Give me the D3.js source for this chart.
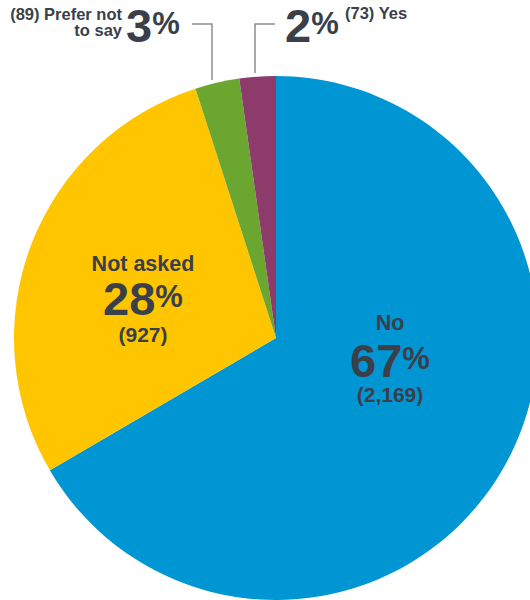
<!DOCTYPE html>
<html>
<head>
<meta charset="utf-8">
<script src="https://cdn.jsdelivr.net/npm/d3@7"></script>
<style>
  body { margin: 0; background: #fff; }
  svg { display: block; font-family: 'Liberation Sans', Arial, sans-serif; }
</style>
</head>
<body>
<div id="chart"></div>
<script>
// ── DATA ──────────────────────────────────────────────
const categories = ['No', 'Not asked', 'Prefer not to say', 'Yes'];
const counts     = [2169, 927, 89, 73];
const colors     = ['#0095D3', '#FFC600', '#6BA631', '#8C3B6B'];

const W = 530, H = 600;
const cx = 276, cy = 338, R = 262;
const ink = '#3A3F4A';

const svg = d3.select('#chart').append('svg')
  .attr('width', W).attr('height', H);

const total = d3.sum(counts);
const pct = v => Math.round(v / total * 100);

const pie = d3.pie().sort(null).value(d => d)(counts);
const arc = d3.arc().innerRadius(0).outerRadius(R);

const g = svg.append('g').attr('transform', `translate(${cx},${cy})`);
g.selectAll('path')
  .data(pie)
  .enter().append('path')
    .attr('d', arc)
    .attr('fill', (d, i) => colors[i]);

// big number + smaller raised percent sign
function bigPct(x, y, value, anchor) {
  const t = svg.append('text')
    .attr('x', x).attr('y', y)
    .attr('text-anchor', anchor)
    .attr('font-weight', 700)
    .attr('fill', ink);
  t.append('tspan').attr('font-size', 47).text(value);
  t.append('tspan').attr('font-size', 31).attr('dy', -8).text('%');
  return t;
}

// ── INSIDE LABELS ─────────────────────────────────────
const inside = [
  { i: 0, x: 390, y: 330, big: 377, cnt: 402 },
  { i: 1, x: 143, y: 271, big: 315, cnt: 342 }
];
inside.forEach(l => {
  svg.append('text')
    .attr('x', l.x).attr('y', l.y)
    .attr('text-anchor', 'middle')
    .attr('font-size', 21.5).attr('font-weight', 700).attr('fill', ink)
    .text(categories[l.i]);
  bigPct(l.x, l.big, pct(counts[l.i]), 'middle');
  svg.append('text')
    .attr('x', l.x).attr('y', l.cnt)
    .attr('text-anchor', 'middle')
    .attr('font-size', 21).attr('font-weight', 700).attr('fill', ink)
    .text(`(${d3.format(',')(counts[l.i])})`);
});

// ── OUTSIDE LABELS ────────────────────────────────────
const lead = svg.append('g').attr('fill', 'none').attr('stroke', '#8a8d92').attr('stroke-width', 1.5);
lead.append('path').attr('d', 'M192,24 H212 V80');
lead.append('path').attr('d', 'M255,73 V24 H275');

// Prefer not to say
const pText = svg.append('g').attr('font-weight', 700).attr('fill', ink).attr('font-size', 16.5);
pText.append('text').attr('x', 122).attr('y', 20).attr('text-anchor', 'end')
  .text(`(${counts[2]}) Prefer not`);
pText.append('text').attr('x', 122).attr('y', 36).attr('text-anchor', 'end')
  .text('to say');
bigPct(126, 42, pct(counts[2]), 'start');

// Yes
bigPct(285, 42, pct(counts[3]), 'start');
svg.append('text').attr('x', 345).attr('y', 19)
  .attr('font-weight', 700).attr('fill', ink).attr('font-size', 16.5)
  .text(`(${counts[3]}) ${categories[3]}`);
</script>
</body>
</html>
